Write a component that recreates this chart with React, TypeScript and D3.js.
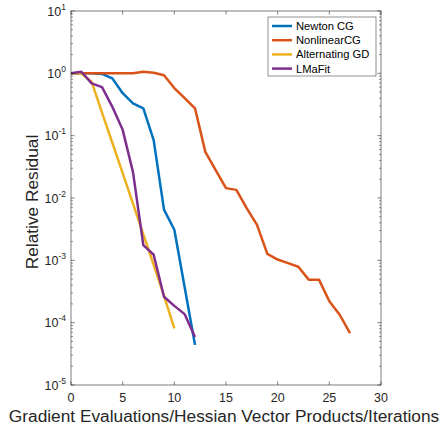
import React from "react";
import * as d3 from "d3";

const seriesNames = ["Newton CG", "NonlinearCG", "Alternating GD", "LMaFit"];
const seriesColors = ["#0072BD", "#D95319", "#EDB120", "#7E2F8E"];

const newtonCG = [1.0, 1.0, 1.0, 0.98, 0.83, 0.48, 0.33, 0.275, 0.085, 0.0065, 0.0031, 3.7e-4, 4.4e-5];
const nonlinearCG = [1.0, 1.0, 1.0, 1.0, 1.0, 1.0, 1.0, 1.06, 1.02, 0.93, 0.58, 0.4, 0.275, 0.055, 0.028, 0.0144, 0.0135, 0.0069, 0.0037, 0.00127, 0.00103, 0.0009, 0.00079, 0.00049, 0.00049, 0.00022, 0.000134, 6.8e-5];
const alternatingGD = [1.0, 1.0, 0.73, 0.235, 0.077, 0.025, 0.0081, 0.0026, 8.5e-4, 2.7e-4, 8.1e-5];
const lmaFit = [1.0, 1.06, 0.69, 0.6, 0.29, 0.124, 0.026, 0.00175, 0.00123, 2.6e-4, 1.86e-4, 1.37e-4, 5.9e-5];

const xTicks = [0, 5, 10, 15, 20, 25, 30];
const yExponents = [1, 0, -1, -2, -3, -4, -5];

const xLabel = "Gradient Evaluations/Hessian Vector Products/Iterations";
const yLabel = "Relative Residual";

export default function App() {
  const W = 448, H = 425;
  const L = 71, R = 381, T = 11, B = 385;
  const x = d3.scaleLinear().domain([0, 30]).range([L, R]);
  const y = d3.scaleLog().domain([1e-5, 10]).range([B, T]);
  const data = [newtonCG, nonlinearCG, alternatingGD, lmaFit];
  const line = d3.line<number>().x((_, i) => x(i)).y((d) => y(d));
  const axisColor = "#262626";
  const font = "'Liberation Sans', Arial, Helvetica, sans-serif";
  const major = 3.5, minor = 2;

  const minorVals: number[] = [];
  for (let e = -5; e < 1; e++) for (let m = 2; m <= 9; m++) minorVals.push(m * Math.pow(10, e));

  const legX = 268, legY = 17, legW = 108, legH = 59;

  return (
    <svg width={W} height={H} style={{ position: "absolute", left: 0, top: 0, background: "#fff" }} fontFamily={font}>
      <rect x={0} y={0} width={W} height={H} fill="#fff" />
      {data.map((d, i) => (
        <path key={i} d={line(d) || ""} fill="none" stroke={seriesColors[i]} strokeWidth={2.5} strokeLinejoin="round" />
      ))}
      <rect x={L} y={T} width={R - L} height={B - T} fill="none" stroke={axisColor} strokeWidth={0.6} />
      {xTicks.map((t) => (
        <g key={"xt" + t}>
          <line x1={x(t)} x2={x(t)} y1={B} y2={B - major} stroke={axisColor} strokeWidth={0.6} />
          <line x1={x(t)} x2={x(t)} y1={T} y2={T + major} stroke={axisColor} strokeWidth={0.6} />
          <text x={x(t)} y={398} textAnchor="middle" dominantBaseline="central" fontSize={12.5} fill="#262626">{t}</text>
        </g>
      ))}
      {yExponents.map((e) => {
        const yy = y(Math.pow(10, e));
        return (
          <g key={"yt" + e}>
            <line x1={L} x2={L + major} y1={yy} y2={yy} stroke={axisColor} strokeWidth={0.6} />
            <line x1={R} x2={R - major} y1={yy} y2={yy} stroke={axisColor} strokeWidth={0.6} />
            <text x={L - 5} y={yy + 4.5} textAnchor="end" fontSize={12.5} fill="#262626">
              10<tspan dy={-6} fontSize={8.5}>{e}</tspan>
            </text>
          </g>
        );
      })}
      {minorVals.map((v, i) => {
        const yy = y(v);
        return (
          <g key={"mn" + i}>
            <line x1={L} x2={L + minor} y1={yy} y2={yy} stroke={axisColor} strokeWidth={0.5} />
            <line x1={R} x2={R - minor} y1={yy} y2={yy} stroke={axisColor} strokeWidth={0.5} />
          </g>
        );
      })}
      <text x={224} y={422} textAnchor="middle" fontSize={17.3} fill="#262626">{xLabel}</text>
      <text transform={`translate(38,202) rotate(-90)`} textAnchor="middle" fontSize={17.3} fill="#262626">{yLabel}</text>
      <rect x={legX} y={legY} width={legW} height={legH} fill="#fff" stroke={axisColor} strokeWidth={0.5} />
      {seriesNames.map((n, i) => {
        const yy = legY + 9 + i * 14.2;
        return (
          <g key={"lg" + i}>
            <line x1={legX + 4} x2={legX + 24} y1={yy} y2={yy} stroke={seriesColors[i]} strokeWidth={2.5} />
            <text x={legX + 28} y={yy + 4} fontSize={11.2} fill="#000">{n}</text>
          </g>
        );
      })}
    </svg>
  );
}
